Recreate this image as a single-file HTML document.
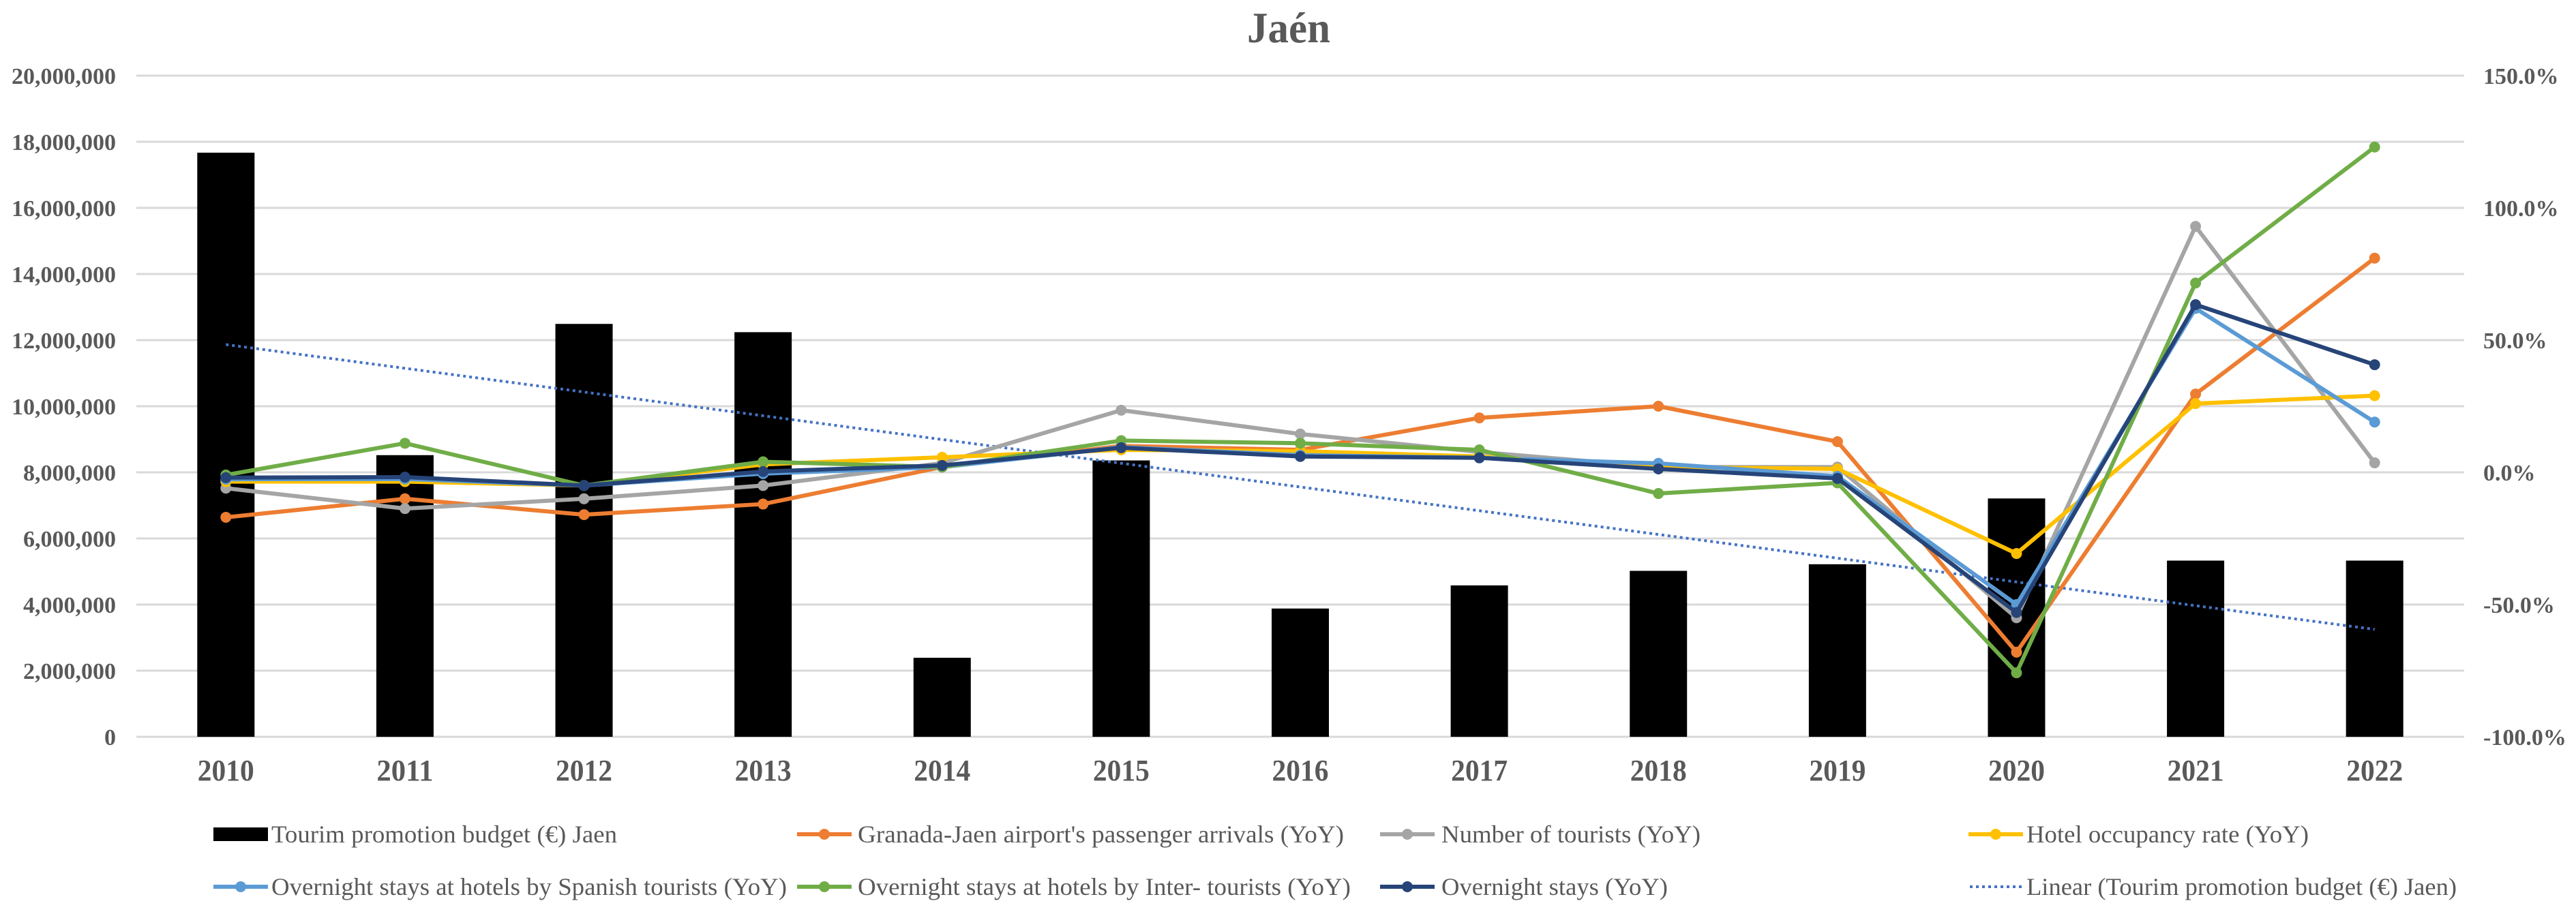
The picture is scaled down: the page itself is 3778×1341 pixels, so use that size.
<!DOCTYPE html>
<html><head><meta charset="utf-8"><style>
html,body{margin:0;padding:0;background:#fff;}
svg{display:block;font-family:"Liberation Serif","DejaVu Serif",serif;}
</style></head><body>
<svg id="chart" width="3778" height="1341" viewBox="0 0 3778 1341" xmlns="http://www.w3.org/2000/svg">
<text x="1890" y="62" text-anchor="middle" font-size="64" font-weight="bold" fill="#595959" textLength="122" lengthAdjust="spacingAndGlyphs">Jaén</text>
<g id="grid"></g>
<g id="bars"></g>
<g id="trend"></g>
<g id="lines"></g>
<g id="axes"></g>
<g id="legend"></g>
</svg>
<script>
const years = ["2010","2011","2012","2013","2014","2015","2016","2017","2018","2019","2020","2021","2022"];
const budget = [17.67,8.52,12.49,12.24,2.39,8.36,3.88,4.58,5.02,5.22,7.21,5.33,5.33];
const airport = [-17,-10,-16,-12,2,10,8.5,20.6,25,11.6,-68,29.6,81];
const tourists = [-6,-13.7,-10,-5,3.5,23.5,14.5,7.7,2,2,-55,93,3.6];
const occupancy = [-3.5,-3.5,-5,3,5.7,8.5,8,6,2,1.3,-30.7,26,29];
const spanish = [-2.6,-2.5,-5,-0.5,2,9.5,6.5,5.5,3.4,-1.5,-50,62,19];
const inter = [-1,11,-5,4,2,12,11,8.5,-8,-4,-75.8,71.6,123];
const overnight = [-2,-1.8,-5,0.3,2.6,9.3,6,5.5,1.3,-2.3,-53,63.4,40.7];
const leftTicks = ["0","2,000,000","4,000,000","6,000,000","8,000,000","10,000,000","12,000,000","14,000,000","16,000,000","18,000,000","20,000,000"];
const rightTicks = ["-100.0%","-50.0%","0.0%","50.0%","100.0%","150.0%"];

const NS="http://www.w3.org/2000/svg";
const X0=200,X1=3614,Y0=1081,Y1=111;
const band=(X1-X0)/years.length;
function xPos(i){return X0+(i+0.5)*band;}
function yLeft(m){return Y0-(m/20)*(Y0-Y1);}
function yRight(p){return Y0-((p+100)/250)*(Y0-Y1);}
function mk(tag,attrs,parent){const e=document.createElementNS(NS,tag);for(const k in attrs)e.setAttribute(k,attrs[k]);parent.appendChild(e);return e;}

const grid=document.getElementById('grid');
for(let i=0;i<leftTicks.length;i++){
  const y=yLeft(i*2);
  const l=mk('line',{x1:X0,x2:X1,y1:y,y2:y,stroke:'#d9d9d9','stroke-width':3},grid);
  
  
}
const axes=document.getElementById('axes');
leftTicks.forEach((t,i)=>{
  const e=mk('text',{x:170,y:yLeft(i*2)+12,'text-anchor':'end','font-size':34,'font-weight':'bold',fill:'#595959'},axes);
  e.textContent=t;
  
  
});
rightTicks.forEach((t,i)=>{
  const e=mk('text',{x:3642,y:yRight(-100+i*50)+12,'font-size':34,'font-weight':'bold',fill:'#595959'},axes);
  e.textContent=t;
  
  
});
years.forEach((t,i)=>{
  const e=mk('text',{x:xPos(i),y:1145,'text-anchor':'middle','font-size':44,'font-weight':'bold',fill:'#595959',textLength:83,lengthAdjust:'spacingAndGlyphs'},axes);
  e.textContent=t;
  
  
});
const bars=document.getElementById('bars');
budget.forEach((v,i)=>{
  const y=yLeft(v);
  const r=mk('rect',{x:xPos(i)-42,y:y,width:84,height:Y0-y,fill:'#000'},bars);
  
  
});
// linear trend
const n=budget.length;let sx=0,sy=0,sxy=0,sxx=0;
budget.forEach((v,i)=>{sx+=i;sy+=v;sxy+=i*v;sxx+=i*i;});
const slope=(n*sxy-sx*sy)/(n*sxx-sx*sx),icpt=(sy-slope*sx)/n;
const tl=mk('line',{x1:xPos(0),y1:yLeft(icpt),x2:xPos(n-1),y2:yLeft(icpt+slope*(n-1)),stroke:'#4472c4','stroke-width':4,'stroke-dasharray':'4 5'},document.getElementById('trend'));



const series=[
 ['airport',airport,'#ed7d31'],
 ['tourists',tourists,'#a5a5a5'],
 ['occupancy',occupancy,'#ffc000'],
 ['spanish',spanish,'#5b9bd5'],
 ['inter',inter,'#70ad47'],
 ['overnight',overnight,'#264478']
];
const lines=document.getElementById('lines');
series.forEach(s=>{
  const g=mk('g',{},lines);
  
  
  const pts=s[1].map((v,i)=>xPos(i)+','+yRight(v)).join(' ');
  const pl=mk('polyline',{points:pts,fill:'none',stroke:s[2],'stroke-width':6,'stroke-linejoin':'round'},g);
  
  
  s[1].forEach((v,i)=>{
    const c=mk('circle',{cx:xPos(i),cy:yRight(v),r:8,fill:s[2]},g);
    
    
  });
});
// legend
const legend=document.getElementById('legend');
const legItems=[
 ['bar','#000','Tourim promotion budget (€) Jaen',313,1224,398,507],
 ['line','#ed7d31',"Granada-Jaen  airport's passenger arrivals (YoY)",1169,1224,1258,713],
 ['line','#a5a5a5','Number of tourists (YoY)',2024,1224,2114,380],
 ['line','#ffc000','Hotel occupancy rate (YoY)',2887,1224,2972,414],
 ['line','#5b9bd5','Overnight stays at hotels by Spanish tourists (YoY)',313,1301,398,756],
 ['line','#70ad47','Overnight stays at hotels by Inter- tourists (YoY)',1169,1301,1258,723],
 ['line','#264478','Overnight stays (YoY)',2024,1301,2114,332],
 ['dot','#4472c4','Linear (Tourim promotion budget (€) Jaen)',2887,1301,2972,631]
];
legItems.forEach(it=>{
  const g=mk('g',{},legend);
  
  
  const [type,col,label,sx0,cy,tx,tw]=it;
  if(type==='bar'){mk('rect',{x:sx0,y:cy-10,width:80,height:20,fill:col},g);}
  else if(type==='line'){mk('line',{x1:sx0,x2:sx0+80,y1:cy,y2:cy,stroke:col,'stroke-width':6},g);mk('circle',{cx:sx0+40,cy:cy,r:8,fill:col},g);}
  else {mk('line',{x1:sx0+2,x2:sx0+78,y1:cy,y2:cy,stroke:col,'stroke-width':4,'stroke-dasharray':'4 5'},g);}
  const t=mk('text',{x:tx,y:cy+12,'font-size':36,fill:'#595959',textLength:tw,lengthAdjust:'spacingAndGlyphs'},g);
  t.textContent=label;
});
</script>
</body></html>
